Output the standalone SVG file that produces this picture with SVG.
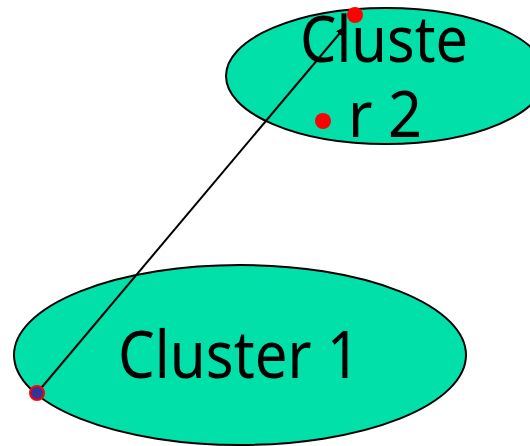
<svg xmlns="http://www.w3.org/2000/svg" width="530" height="446" viewBox="0 0 530 446">
  <style>
    .cluster { fill: #00e0a8; stroke: #000; stroke-width: 2; }
    .label { font-family: "Noto Sans", "DejaVu Sans", sans-serif; fill: #000; text-anchor: middle; }
    .link { stroke: #000; stroke-width: 2; fill: none; }
    .pt { fill: #ff0000; }
  </style>
  <defs>
    <marker id="arrow" markerWidth="10" markerHeight="8" refX="9" refY="4" orient="auto" markerUnits="userSpaceOnUse">
      <path d="M0,0 L10,4 L0,8 Z" fill="#000"/>
    </marker>
  </defs>

  <g id="cluster1">
    <ellipse class="cluster" cx="240" cy="355" rx="226" ry="90"/>
    <text class="label" x="239" y="378" font-size="66" textLength="242" lengthAdjust="spacingAndGlyphs">Cluster 1</text>
  </g>

  <g id="cluster2">
    <ellipse class="cluster" cx="386" cy="76" rx="160" ry="68"/>
    <text class="label" x="384" y="62" font-size="64" textLength="168" lengthAdjust="spacingAndGlyphs">Cluste</text>
    <text class="label" x="385" y="137" font-size="64" textLength="74" lengthAdjust="spacingAndGlyphs">r 2</text>
  </g>

  <g id="connectors">
    <line class="link" x1="37" y1="393" x2="345" y2="27" marker-end="url(#arrow)"/>
  </g>

  <g id="points">
    <circle class="pt" cx="355" cy="15" r="8"/>
    <circle class="pt" cx="323" cy="121" r="8"/>
    <circle cx="37" cy="393" r="7" fill="#333399" stroke="#ff0000" stroke-width="2"/>
  </g>
</svg>
